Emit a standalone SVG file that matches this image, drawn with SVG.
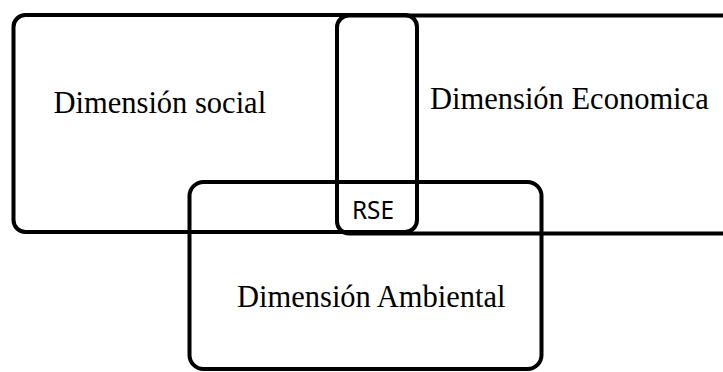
<svg xmlns="http://www.w3.org/2000/svg" width="723" height="372" viewBox="0 0 723 372">
<style>
.box{fill:none;stroke:#000;stroke-width:4}
.lbl{font-family:"Liberation Serif","Times New Roman",serif;font-size:30.5px;fill:#000}
.rse{font-family:"Noto Sans","Open Sans",sans-serif;font-size:25px;fill:#000}
</style>
<rect width="723" height="372" fill="#fff"/>
<g id="social">
<rect class="box" x="13.5" y="15" width="403.5" height="217" rx="12"/>
<text class="lbl" x="53.5" y="113">Dimensión social</text>
</g>
<g id="economica">
<rect class="box" x="337" y="15.5" width="400" height="218" rx="12"/>
<text class="lbl" x="430" y="109">Dimensión Economica</text>
</g>
<g id="ambiental">
<rect class="box" x="189.5" y="182" width="352" height="187" rx="14"/>
<text class="lbl" x="237" y="307">Dimensión Ambiental</text>
</g>
<g id="rse">
<text class="rse" x="352" y="219" textLength="42" lengthAdjust="spacingAndGlyphs">RSE</text>
</g>
<g id="connectors"></g>
</svg>
